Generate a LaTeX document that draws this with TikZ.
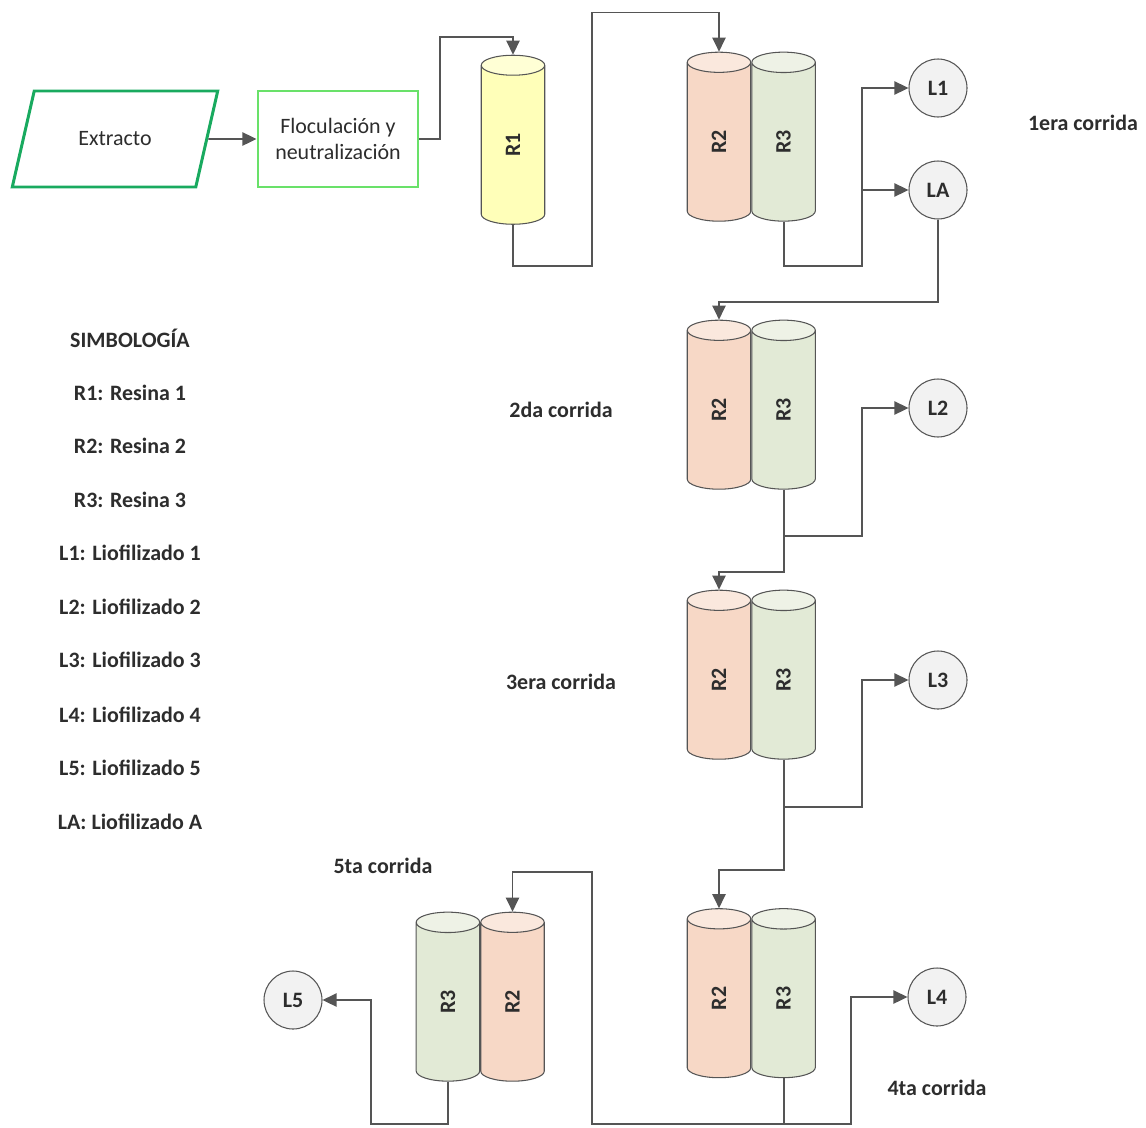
\documentclass[tikz,border=0pt]{standalone}
\usepackage{fontspec}
\setmainfont{Carlito}
\usetikzlibrary{arrows.meta,positioning,shapes.geometric}

\definecolor{linegray}{RGB}{85,85,85}
\definecolor{txtgray}{RGB}{45,45,45}
\definecolor{extrgreen}{RGB}{25,170,95}
\definecolor{flocgreen}{RGB}{105,225,105}
\definecolor{resinone}{RGB}{255,255,185}
\definecolor{resintwo}{RGB}{247,216,198}
\definecolor{resinthree}{RGB}{226,234,214}
\definecolor{liofill}{RGB}{242,242,242}

\begin{document}
\begin{tikzpicture}[
  >={Triangle[length=8pt,width=7.5pt]},
  font=\fontsize{12.5}{15}\selectfont,
  text=txtgray,
  inputbox/.style={trapezium,trapezium left angle=66,trapezium right angle=114,trapezium stretches=true,
    draw=extrgreen,line width=1.7pt,minimum width=4.12cm,minimum height=1.92cm},
  procbox/.style={draw=flocgreen,line width=1.7pt,align=center,minimum width=3.2cm,minimum height=1.92cm},
  col/.style={cylinder,shape border rotate=90,aspect=1.4,draw=linegray,line width=0.6pt,
    minimum width=1.27cm,minimum height=3.38cm,inner sep=0pt,font=\fontsize{12.5}{15}\selectfont\bfseries,
    cylinder uses custom fill},
  colone/.style={col,cylinder body fill=resinone,cylinder end fill=resinone!60},
  coltwo/.style={col,cylinder body fill=resintwo,cylinder end fill=resintwo!60},
  colthree/.style={col,cylinder body fill=resinthree,cylinder end fill=resinthree!60},
  lio/.style={circle,draw=linegray,fill=liofill,line width=0.6pt,minimum size=1.16cm,inner sep=0pt,
    font=\fontsize{12.5}{15}\selectfont\bfseries},
  run/.style={font=\fontsize{12.5}{15}\selectfont\bfseries},
  arr/.style={->,draw=linegray,line width=1.1pt}
]
  \useasboundingbox (0,0) rectangle (22.92,-22.54);

  % feed and pretreatment
  \node[inputbox] (extr) at (2.30,-2.78) {Extracto};
  \node[procbox] (floc) at (6.76,-2.78) {Floculación y\\neutralización};

  % 1era corrida
  \node[colone] (r1) at (10.26,-2.90) {\rotatebox{90}{R1}};
  \node[coltwo] (r2a) at (14.38,-2.84) {\rotatebox{90}{R2}};
  \node[colthree,right=0pt of r2a] (r3a) {\rotatebox{90}{R3}};
  \node[lio] (l1) at (18.76,-1.76) {L1};
  \node[lio] (la) at (18.76,-3.80) {LA};
  \node[run] (run1) at (21.66,-2.46) {1era corrida};

  % 2da corrida
  \node[coltwo] (r2b) at (14.38,-8.20) {\rotatebox{90}{R2}};
  \node[colthree,right=0pt of r2b] (r3b) {\rotatebox{90}{R3}};
  \node[lio] (l2) at (18.76,-8.16) {L2};
  \node[run] (run2) at (11.22,-8.20) {2da corrida};

  % 3era corrida
  \node[coltwo] (r2c) at (14.38,-13.60) {\rotatebox{90}{R2}};
  \node[colthree,right=0pt of r2c] (r3c) {\rotatebox{90}{R3}};
  \node[lio] (l3) at (18.76,-13.60) {L3};
  \node[run] (run3) at (11.22,-13.64) {3era corrida};

  % 4ta corrida
  \node[coltwo] (r2d) at (14.38,-19.97) {\rotatebox{90}{R2}};
  \node[colthree,right=0pt of r2d] (r3d) {\rotatebox{90}{R3}};
  \node[lio] (l4) at (18.74,-19.94) {L4};
  \node[run] (run4) at (18.74,-21.76) {4ta corrida};

  % 5ta corrida
  \node[coltwo] (r2e) at (10.25,-20.04) {\rotatebox{90}{R2}};
  \node[colthree,left=0pt of r2e] (r3e) {\rotatebox{90}{R3}};
  \node[lio] (l5) at (5.86,-20.00) {L5};
  \node[run] (run5) at (7.66,-17.32) {5ta corrida};

  % simbologia
  \node[run] (sym) at (2.60,-6.76) {SIMBOLOGÍA};
  \node[run] (symr1) at (2.60,-7.85) {R1: Resina 1};
  \node[run] (symr2) at (2.60,-8.92) {R2: Resina 2};
  \node[run] (symr3) at (2.60,-10.00) {R3: Resina 3};
  \node[run] (syml1) at (2.60,-11.06) {L1: Liofilizado 1};
  \node[run] (syml2) at (2.60,-12.14) {L2: Liofilizado 2};
  \node[run] (syml3) at (2.60,-13.20) {L3: Liofilizado 3};
  \node[run] (syml4) at (2.60,-14.30) {L4: Liofilizado 4};
  \node[run] (syml5) at (2.60,-15.36) {L5: Liofilizado 5};
  \node[run] (symla) at (2.60,-16.44) {LA: Liofilizado A};

  % connectors
  \draw[arr] (extr.east) -- (floc.west);
  \coordinate (k1) at (8.80,-0.74);
  \draw[arr] (floc.east) -| (k1) -| (r1.top);
  \coordinate (k2) at (11.84,-5.32);
  \coordinate (k3) at (11.84,-0.25);
  \draw[arr] (r1.bottom) |- (k2) -- (k3) -| (r2a.top);
  \coordinate (k4) at (17.24,-5.32);
  \draw[arr] (r3a.bottom) |- (k4) |- (l1.west);
  \draw[arr] (k4) |- (la.west);

  \coordinate (k5) at (18.76,-6.04);
  \draw[arr] (la.south) -- (k5) -| (r2b.top);
  \coordinate (k6) at (r3b.bottom |- 0,-10.72);
  \coordinate (k7) at (17.24,-10.72);
  \draw[arr] (r3b.bottom) -- (k6) -- (k7) |- (l2.west);
  \coordinate (k8) at (r3b.bottom |- 0,-11.44);
  \draw[arr] (k6) -- (k8) -| (r2c.top);

  \coordinate (k9) at (r3c.bottom |- 0,-16.14);
  \coordinate (k10) at (17.24,-16.14);
  \draw[arr] (r3c.bottom) -- (k9) -- (k10) |- (l3.west);
  \coordinate (k11) at (r3c.bottom |- 0,-17.40);
  \draw[arr] (k9) -- (k11) -| (r2d.top);

  \coordinate (k12) at (r3d.bottom |- 0,-22.48);
  \coordinate (k13) at (17.02,-22.48);
  \draw[arr] (r3d.bottom) -- (k12) -- (k13) |- (l4.west);
  \coordinate (k14) at (11.84,-22.48);
  \coordinate (k15) at (11.84,-17.44);
  \draw[arr] (k12) -- (k14) -- (k15) -| (r2e.top);

  \coordinate (k16) at (7.42,-22.48);
  \draw[arr] (r3e.bottom) |- (k16) |- (l5.east);
\end{tikzpicture}
\end{document}
